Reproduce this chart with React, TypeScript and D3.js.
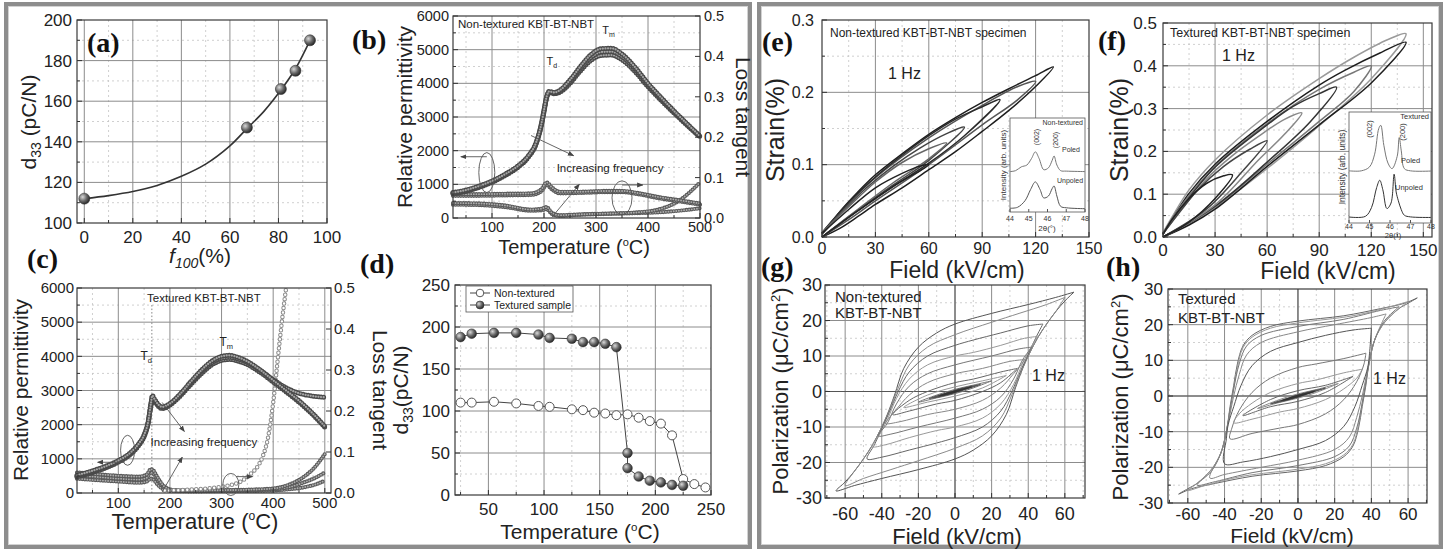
import React from 'react';
import * as d3 from 'd3';

type Pt = [number, number];
type Scale = d3.ScaleLinear<number, number>;

// ---------- (a) d33 vs f100 ----------
const aF100 = [0, 67, 81, 87, 93];
const aD33 = [112, 147, 166, 175, 190];
const aFitF = [0, 10, 20, 30, 40, 50, 60, 67, 74, 81, 87, 93];
const aFitD = [112, 113.5, 115.5, 118.5, 123, 129, 138, 146.5, 155, 165.5, 176, 190];

// ---------- (b) non-textured permittivity / loss ----------
const bT = [25, 50, 75, 100, 125, 150, 170, 185, 195, 200, 205, 210, 220, 230, 250, 270, 290, 310, 330, 350, 375, 400, 425, 450, 475, 500];
const bEps1 = [760, 830, 950, 1100, 1300, 1550, 1850, 2250, 2800, 3200, 3600, 3760, 3730, 3790, 4100, 4500, 4850, 5030, 5040, 4870, 4480, 4000, 3580, 3180, 2800, 2430];
const bEps2 = [740, 810, 930, 1080, 1280, 1530, 1830, 2230, 2780, 3180, 3580, 3740, 3710, 3760, 4050, 4430, 4760, 4930, 4940, 4790, 4420, 3950, 3540, 3150, 2780, 2420];
const bEps3 = [720, 790, 910, 1060, 1260, 1510, 1810, 2210, 2760, 3160, 3560, 3720, 3690, 3730, 4000, 4370, 4680, 4830, 4840, 4700, 4350, 3900, 3500, 3120, 2760, 2410];
const bLossT = [25, 75, 125, 175, 195, 205, 215, 230, 270, 320, 350, 380, 420, 460, 500];
const bLoss1 = [0.059, 0.059, 0.06, 0.061, 0.071, 0.088, 0.076, 0.065, 0.065, 0.067, 0.067, 0.062, 0.052, 0.044, 0.036];
const bLoss2 = [0.055, 0.055, 0.056, 0.057, 0.066, 0.082, 0.071, 0.061, 0.062, 0.064, 0.064, 0.059, 0.049, 0.041, 0.033];
const bLoss3 = [0.037, 0.036, 0.031, 0.021, 0.023, 0.027, 0.013, 0.007, 0.009, 0.011, 0.012, 0.014, 0.021, 0.043, 0.088];
const bLoss4 = [0.033, 0.032, 0.027, 0.018, 0.019, 0.022, 0.01, 0.005, 0.008, 0.01, 0.011, 0.012, 0.014, 0.018, 0.024];

// ---------- (c) textured permittivity / loss ----------
const cT = [20, 50, 75, 100, 125, 140, 150, 158, 163, 166, 170, 178, 185, 200, 220, 240, 260, 280, 300, 315, 330, 350, 375, 400, 425, 450, 475, 500];
const cEps1 = [520, 650, 780, 950, 1200, 1450, 1700, 2100, 2600, 2850, 2750, 2580, 2520, 2620, 2900, 3250, 3580, 3850, 4000, 4030, 3980, 3850, 3600, 3300, 3000, 2700, 2350, 1950];
const cEps2 = [500, 630, 760, 930, 1180, 1430, 1680, 2080, 2570, 2800, 2720, 2560, 2500, 2600, 2880, 3220, 3540, 3800, 3940, 3970, 3930, 3820, 3590, 3320, 3080, 2920, 2840, 2800];
const cEps3 = [470, 600, 730, 900, 1150, 1400, 1650, 2050, 2530, 2760, 2690, 2530, 2470, 2570, 2840, 3170, 3480, 3740, 3880, 3910, 3870, 3760, 3530, 3250, 2960, 2660, 2320, 1930];
const cLossT = [20, 50, 100, 140, 155, 163, 168, 175, 190, 210, 250, 300, 350, 400, 430, 460, 480, 500];
const cLoss1 = [0.05, 0.047, 0.042, 0.04, 0.045, 0.058, 0.055, 0.04, 0.015, 0.007, 0.006, 0.007, 0.008, 0.011, 0.02, 0.04, 0.062, 0.095];
const cLoss2 = [0.042, 0.04, 0.035, 0.033, 0.037, 0.05, 0.047, 0.033, 0.012, 0.006, 0.005, 0.006, 0.007, 0.009, 0.014, 0.026, 0.036, 0.05];
const cLoss3 = [0.035, 0.032, 0.028, 0.025, 0.028, 0.035, 0.033, 0.022, 0.008, 0.005, 0.004, 0.005, 0.005, 0.006, 0.009, 0.014, 0.02, 0.03];
const cSteepT = [190, 220, 250, 280, 300, 320, 340, 355, 370, 380, 390, 400, 410, 418, 425];
const cSteep = [0.006, 0.007, 0.009, 0.012, 0.015, 0.02, 0.03, 0.045, 0.065, 0.09, 0.135, 0.22, 0.34, 0.43, 0.5];

// ---------- (d) d33 vs temperature ----------
const dNonT = [25, 35, 55, 75, 95, 105, 125, 135, 145, 155, 165, 175, 185, 195, 205, 215, 225, 235, 245];
const dNon = [110, 110, 111, 109, 106, 105, 102, 101, 98, 97, 95, 96, 92, 88, 85, 71, 19, 13, 9];
const dTexT = [25, 35, 55, 75, 95, 105, 125, 135, 145, 155, 165, 175, 175, 185, 195, 205, 215, 225];
const dTex = [188, 192, 193, 193, 191, 187, 186, 182, 182, 180, 176, 50, 32, 22, 17, 15, 12, 11];

// ---------- (e) strain loops, non-textured (up branch then down branch) ----------
const eLoop130: Pt[] = [[0, 0], [10, 0.012], [20, 0.028], [30, 0.045], [45, 0.068], [60, 0.093], [75, 0.118], [90, 0.146], [105, 0.175], [120, 0.208], [130, 0.235], [120, 0.223], [105, 0.205], [90, 0.186], [75, 0.165], [60, 0.142], [45, 0.115], [30, 0.086], [20, 0.062], [10, 0.035], [3, 0.012], [0, 0.004]];
const eLoop120: Pt[] = [[0, 0], [15, 0.024], [30, 0.05], [60, 0.1], [90, 0.155], [110, 0.19], [120, 0.215], [110, 0.208], [90, 0.182], [60, 0.137], [30, 0.082], [15, 0.047], [5, 0.02], [0, 0.005]];
const eLoop100: Pt[] = [[0, 0], [20, 0.036], [40, 0.07], [60, 0.102], [80, 0.14], [100, 0.19], [90, 0.18], [75, 0.163], [60, 0.14], [45, 0.113], [30, 0.083], [15, 0.048], [0, 0.006]];
const eLoop80: Pt[] = [[0, 0], [20, 0.037], [40, 0.072], [60, 0.106], [80, 0.152], [70, 0.143], [55, 0.123], [40, 0.098], [25, 0.068], [10, 0.032], [0, 0.006]];
const eLoop70: Pt[] = [[0, 0], [20, 0.038], [40, 0.075], [60, 0.108], [70, 0.13], [60, 0.122], [45, 0.103], [30, 0.076], [15, 0.042], [0, 0.006]];
const eLoop60: Pt[] = [[0, 0], [20, 0.036], [40, 0.07], [60, 0.1], [55, 0.098], [45, 0.088], [30, 0.068], [15, 0.038], [0, 0.005]];

// ---------- (f) strain loops, textured ----------
const fLoop140g: Pt[] = [[0, 0], [15, 0.03], [30, 0.068], [60, 0.16], [90, 0.26], [120, 0.37], [140, 0.475], [130, 0.462], [110, 0.42], [90, 0.37], [60, 0.285], [30, 0.18], [15, 0.11], [5, 0.045], [0, 0.01]];
const fLoop140k: Pt[] = [[0, 0], [15, 0.028], [30, 0.065], [60, 0.165], [90, 0.262], [120, 0.36], [140, 0.455], [125, 0.43], [105, 0.39], [90, 0.355], [60, 0.27], [30, 0.17], [15, 0.102], [5, 0.04], [0, 0.006]];
const fLoop120: Pt[] = [[0, 0], [30, 0.07], [60, 0.17], [90, 0.27], [110, 0.34], [120, 0.4], [110, 0.385], [90, 0.345], [60, 0.265], [30, 0.165], [10, 0.07], [0, 0.008]];
const fLoop100: Pt[] = [[0, 0], [30, 0.072], [60, 0.175], [85, 0.27], [100, 0.35], [90, 0.335], [75, 0.305], [60, 0.262], [30, 0.163], [10, 0.065], [0, 0.008]];
const fLoop80: Pt[] = [[0, 0], [30, 0.075], [55, 0.18], [70, 0.24], [80, 0.29], [70, 0.275], [55, 0.235], [40, 0.19], [25, 0.135], [10, 0.06], [0, 0.008]];
const fLoop60: Pt[] = [[0, 0], [25, 0.065], [45, 0.15], [60, 0.225], [50, 0.205], [35, 0.165], [20, 0.11], [8, 0.05], [0, 0.007]];
const fLoop40: Pt[] = [[0, 0], [15, 0.035], [30, 0.09], [40, 0.145], [35, 0.143], [25, 0.125], [15, 0.09], [5, 0.04], [0, 0.006]];

// ---------- XRD insets (2theta, arb. intensity) ----------
const eXrdPoled: Pt[] = [[44, 43], [44.3, 44], [44.6, 48], [44.9, 50], [45.15, 57], [45.35, 64], [45.55, 57], [45.8, 45], [46.05, 47], [46.25, 55], [46.35, 59.6], [46.5, 50], [46.7, 44], [47, 43.5], [48, 43]];
const eXrdUnpoled: Pt[] = [[44, 4], [44.4, 5], [44.8, 12], [45.1, 24], [45.35, 32], [45.6, 24], [45.8, 15], [46.05, 17], [46.25, 25], [46.35, 27.7], [46.5, 17], [46.7, 6], [47, 4.5], [48, 3.5]];
const fXrdPoled: Pt[] = [[44, 47], [44.6, 47], [45, 50.5], [45.25, 62], [45.45, 85], [45.55, 88], [45.7, 70], [45.9, 54], [46.1, 49], [46.35, 60], [46.45, 77], [46.55, 65], [46.7, 49], [47, 47], [48, 46.8]];
const fXrdUnpoled: Pt[] = [[44, 5.4], [44.8, 6], [45.1, 14], [45.35, 32], [45.5, 38.5], [45.65, 30], [45.85, 13], [46.05, 18], [46.2, 44], [46.3, 28], [46.4, 20.5], [46.55, 12], [46.7, 7], [47, 5.5], [48, 5]];

// ---------- (g),(h) P-E loops: descending branch, ascending branch is its point mirror ----------
const gLoops: Pt[][] = [
  [[65, 28], [55, 26.5], [40, 24.5], [20, 22], [0, 19], [-10, 16.5], [-20, 12.5], [-28, 6.5], [-33, -1], [-37, -6.5], [-40, -10], [-45, -15], [-50, -19], [-55, -22.5], [-60, -25.5], [-65, -28]],
  [[60, 26.5], [50, 24.5], [35, 22], [20, 19.5], [0, 16], [-15, 12.5], [-25, 7.5], [-31, 1], [-36, -5.5], [-40, -10], [-45, -15], [-50, -19], [-55, -22.5], [-60, -26.5]],
  [[48, 19], [40, 18.5], [25, 16.5], [10, 14.5], [0, 13], [-15, 10], [-25, 5.5], [-31, 0], [-36, -6], [-40, -10.5], [-44, -15], [-48, -19]],
  [[45, 15.5], [38, 15], [25, 13], [10, 11], [0, 10], [-15, 7.5], [-25, 3.5], [-32, -2], [-37, -8], [-41, -12], [-45, -15.5]],
  [[42, 12.5], [35, 12], [20, 10], [0, 7.5], [-15, 5], [-25, 1.5], [-32, -3.5], [-37, -9], [-42, -12.5]],
  [[38, 9], [30, 8.5], [15, 6.5], [0, 5], [-15, 2.5], [-25, -1], [-32, -5], [-36, -7.5], [-38, -9]],
  [[34, 6.5], [25, 5.5], [10, 3.5], [0, 2.5], [-15, 0], [-25, -2.5], [-34, -6.5]],
  [[28, 4.5], [15, 3], [0, 1.3], [-15, -1], [-28, -4.5]],
  [[20, 3], [10, 1.8], [0, 0.6], [-10, -1], [-20, -3]],
  [[14, 2], [5, 1], [0, 0.3], [-5, -0.5], [-14, -2]],
  [[9, 1.3], [0, 0.15], [-9, -1.3]],
];
const hLoops: Pt[][] = [
  [[65, 27.5], [58, 26], [45, 24.5], [25, 22.5], [0, 21], [-15, 19.5], [-25, 17], [-30, 14], [-33, 9], [-35, 3], [-37, -3], [-39, -10], [-42, -16], [-47, -20.5], [-55, -24.5], [-60, -26], [-65, -27.5]],
  [[60, 26.5], [50, 25], [30, 22.5], [0, 20.5], [-15, 19], [-25, 16.5], [-30, 13.5], [-33, 8], [-35, 2], [-37, -4], [-39, -10], [-42, -16], [-47, -20.5], [-55, -24.5], [-60, -26.5]],
  [[55, 25], [45, 24], [25, 21.5], [0, 19.5], [-20, 17], [-28, 14], [-32, 9], [-35, 2], [-37, -4], [-39, -10], [-42, -16], [-47, -21], [-55, -25]],
  [[48, 23], [40, 22], [20, 20], [0, 18], [-20, 15], [-28, 11.5], [-32, 6], [-35, 0], [-37, -5], [-39, -10], [-42, -16], [-48, -23]],
  [[40, 19], [30, 18.5], [15, 17], [0, 15], [-15, 12.5], [-25, 8.5], [-31, 3], [-35, -3], [-38, -8], [-39, -12], [-40, -19]],
  [[37, 12], [25, 10.5], [10, 9], [0, 8], [-15, 5], [-25, 1], [-32, -4], [-36, -9], [-37, -12]],
  [[35, 7.5], [25, 6.5], [10, 4.5], [0, 3.5], [-15, 1], [-25, -2], [-32, -5], [-35, -7.5]],
  [[30, 5.5], [15, 3], [0, 1.5], [-15, -1], [-30, -5.5]],
  [[22, 3.5], [10, 1.8], [0, 0.6], [-10, -1], [-22, -3.5]],
  [[15, 2.2], [5, 1], [0, 0.3], [-5, -0.6], [-15, -2.2]],
  [[9, 1.3], [0, 0.15], [-9, -1.3]],
];

// ---------- tick values ----------
const aXT = [0, 20, 40, 60, 80, 100];
const aYT = [100, 120, 140, 160, 180, 200];
const tempXT = [100, 200, 300, 400, 500];
const epsYT = [0, 1000, 2000, 3000, 4000, 5000, 6000];
const lossYT = [0, 0.1, 0.2, 0.3, 0.4, 0.5];
const dXT = [50, 100, 150, 200, 250];
const dYT = [0, 50, 100, 150, 200, 250];
const strainXT = [0, 30, 60, 90, 120, 150];
const eYT = [0, 0.1, 0.2, 0.3];
const fYT = [0, 0.1, 0.2, 0.3, 0.4, 0.5];
const peXT = [-60, -40, -20, 0, 20, 40, 60];
const peYT = [-30, -20, -10, 0, 10, 20, 30];
const xrdXT = [44, 45, 46, 47, 48];

const SANS = "'Liberation Sans', Arial, sans-serif";
const SERIF = "'Liberation Serif', 'Times New Roman', serif";

const zip = (a: number[], b: number[]): Pt[] => a.map((v, i) => [v, b[i]]);
const mids = (t: number[]) => t.slice(1).map((v, i) => (v + t[i]) / 2);
const withEdges = (t: number[], lo: number, hi: number) => {
  const m = mids(t);
  const step = t[1] - t[0];
  if (t[0] - step / 2 > lo) m.unshift(t[0] - step / 2);
  if (t[t.length - 1] + step / 2 < hi) m.push(t[t.length - 1] + step / 2);
  return m;
};
const mkLine = (x: Scale, y: Scale, curve: d3.CurveFactory = d3.curveMonotoneX) =>
  d3.line<Pt>().x(d => x(d[0])).y(d => y(d[1])).curve(curve);

interface AxProps {
  x: Scale; y: Scale; xt: number[]; yt: number[];
  fs: number; xdy: number; ydx: number;
  xf?: (v: number) => string; yf?: (v: number) => string;
  y2?: Scale; y2t?: number[]; y2f?: (v: number) => string; y2dx?: number;
}

function Grid({ x, y, xt, yt }: AxProps) {
  const [l, r] = x.range(); const [b, t] = y.range();
  const [x0, x1] = x.domain(); const [y0, y1] = y.domain();
  const xm = withEdges(xt, x0, x1); const ym = withEdges(yt, y0, y1);
  return (
    <g>
      <rect x={l} y={t} width={r - l} height={b - t} fill="#fff" />
      {xm.map(v => <line key={'xm' + v} x1={x(v)} x2={x(v)} y1={t} y2={b} stroke="#c4c4c4" strokeWidth={0.8} strokeDasharray="2 3" />)}
      {ym.map(v => <line key={'ym' + v} y1={y(v)} y2={y(v)} x1={l} x2={r} stroke="#c4c4c4" strokeWidth={0.8} strokeDasharray="2 3" />)}
      {xt.filter(v => x(v) > l + 2 && x(v) < r - 2).map(v => <line key={'xt' + v} x1={x(v)} x2={x(v)} y1={t} y2={b} stroke="#8c8c8c" strokeWidth={1} />)}
      {yt.filter(v => y(v) < b - 2 && y(v) > t + 2).map(v => <line key={'yt' + v} y1={y(v)} y2={y(v)} x1={l} x2={r} stroke="#8c8c8c" strokeWidth={1} />)}
    </g>
  );
}

function Frame(p: AxProps) {
  const { x, y, xt, yt, fs, xdy, ydx } = p;
  const [l, r] = x.range(); const [b, t] = y.range();
  const [x0, x1] = x.domain(); const [y0, y1] = y.domain();
  const xm = withEdges(xt, x0, x1); const ym = withEdges(yt, y0, y1);
  const xf = p.xf || ((v: number) => String(v));
  const yf = p.yf || ((v: number) => String(v));
  return (
    <g fontFamily={SANS} fill="#222">
      <rect x={l} y={t} width={r - l} height={b - t} fill="none" stroke="#3a3a3a" strokeWidth={1.2} />
      {xm.map(v => <line key={'bm' + v} x1={x(v)} x2={x(v)} y1={b} y2={b - 3} stroke="#333" />)}
      {xt.map(v => <line key={'bt' + v} x1={x(v)} x2={x(v)} y1={b} y2={b - 5} stroke="#333" />)}
      {ym.map(v => <line key={'lm' + v} x1={l} x2={l + 3} y1={y(v)} y2={y(v)} stroke="#333" />)}
      {yt.map(v => <line key={'lt' + v} x1={l} x2={l + 5} y1={y(v)} y2={y(v)} stroke="#333" />)}
      {xt.map(v => <text key={'xl' + v} x={x(v)} y={b + xdy} fontSize={fs} textAnchor="middle">{xf(v)}</text>)}
      {yt.map(v => <text key={'yl' + v} x={l - ydx} y={y(v)} dy="0.35em" fontSize={fs} textAnchor="end">{yf(v)}</text>)}
      {p.y2 && p.y2t && p.y2t.map(v => (
        <g key={'r' + v}>
          <line x1={r} x2={r - 5} y1={p.y2!(v)} y2={p.y2!(v)} stroke="#333" />
          <text x={r + (p.y2dx ?? 4)} y={p.y2!(v)} dy="0.35em" fontSize={fs}>{p.y2f ? p.y2f(v) : String(v)}</text>
        </g>
      ))}
    </g>
  );
}

// chain of small open markers along a curve
function Beads({ d, color = '#4a4a4a', w = 5, gap = 2.6, hole = 0.45, holeOp = 0.5 }: { d: string; color?: string; w?: number; gap?: number; hole?: number; holeOp?: number }) {
  return (
    <g fill="none" strokeLinecap="round">
      <path d={d} stroke={color} strokeWidth={w} strokeDasharray={`0 ${gap}`} />
      <path d={d} stroke="#fff" strokeOpacity={holeOp} strokeWidth={w * hole} strokeDasharray={`0 ${gap}`} />
    </g>
  );
}

function PanelTag({ x, y, t }: { x: number; y: number; t: string }) {
  return <text x={x} y={y} fontFamily={SERIF} fontWeight="bold" fontSize={28} fill="#111">{t}</text>;
}

function TempLabel({ x, y, fs }: { x: number; y: number; fs: number }) {
  return (
    <text x={x} y={y} fontFamily={SANS} fontSize={fs} textAnchor="middle" fill="#222">
      Temperature (<tspan dy={-fs * 0.4} fontSize={fs * 0.55}>o</tspan><tspan dy={fs * 0.4}>C)</tspan>
    </text>
  );
}

function VLabel({ x, y, fs, rot = -90, children }: { x: number; y: number; fs: number; rot?: number; children: React.ReactNode }) {
  return (
    <text transform={`translate(${x},${y}) rotate(${rot})`} fontFamily={SANS} fontSize={fs} textAnchor="middle" fill="#222">
      {children}
    </text>
  );
}

const Arrow = ({ x1, y1, x2, y2 }: { x1: number; y1: number; x2: number; y2: number }) => (
  <line x1={x1} y1={y1} x2={x2} y2={y2} stroke="#555" strokeWidth={0.9} markerEnd="url(#arrowHead)" />
);

const peLoop = (desc: Pt[]): Pt[] => desc.concat(desc.map(([e, p]) => [-e, -p] as Pt).slice(1));

export default function App() {
  // scales
  const ax = d3.scaleLinear().domain([-3, 100]).range([77, 327]);
  const ay = d3.scaleLinear().domain([100, 200]).range([223, 20]);
  const bx = d3.scaleLinear().domain([25, 500]).range([453, 700]);
  const by = d3.scaleLinear().domain([0, 6000]).range([218, 16]);
  const by2 = d3.scaleLinear().domain([0, 0.5]).range([218, 16]);
  const cx = d3.scaleLinear().domain([20, 512]).range([77, 331]);
  const cy = d3.scaleLinear().domain([0, 6000]).range([493, 288]);
  const cy2 = d3.scaleLinear().domain([0, 0.5]).range([493, 288]);
  const dx = d3.scaleLinear().domain([20, 250]).range([455, 711]);
  const dy = d3.scaleLinear().domain([0, 250]).range([495, 285]);
  const ex = d3.scaleLinear().domain([0, 150]).range([822, 1089]);
  const ey = d3.scaleLinear().domain([0, 0.3]).range([237, 20]);
  const fx = d3.scaleLinear().domain([0, 155]).range([1163, 1432]);
  const fy = d3.scaleLinear().domain([0, 0.5]).range([237, 23]);
  const gx = d3.scaleLinear().domain([-71, 71]).range([825, 1085]);
  const gy = d3.scaleLinear().domain([-30, 30]).range([498, 285]);
  const hx = d3.scaleLinear().domain([-70.8, 70.3]).range([1168, 1427]);
  const hy = d3.scaleLinear().domain([-30, 30]).range([503, 289]);
  const iex = d3.scaleLinear().domain([44, 48]).range([1010, 1085]);
  const iey = d3.scaleLinear().domain([0, 100]).range([212, 118]);
  const ifx = d3.scaleLinear().domain([44, 48]).range([1349, 1431]);
  const ify = d3.scaleLinear().domain([0, 100]).range([223, 112]);

  const f1 = (v: number) => v.toFixed(1);
  const aAx: AxProps = { x: ax, y: ay, xt: aXT, yt: aYT, fs: 17, xdy: 20, ydx: 5 };
  const bAx: AxProps = { x: bx, y: by, xt: tempXT, yt: epsYT, fs: 14.5, xdy: 14, ydx: 4, y2: by2, y2t: lossYT, y2f: f1, y2dx: 4 };
  const cAx: AxProps = { x: cx, y: cy, xt: tempXT, yt: epsYT, fs: 15, xdy: 15, ydx: 3, y2: cy2, y2t: lossYT, y2f: f1, y2dx: 3 };
  const dAx: AxProps = { x: dx, y: dy, xt: dXT, yt: dYT, fs: 17, xdy: 20, ydx: 5 };
  const eAx: AxProps = { x: ex, y: ey, xt: strainXT, yt: eYT, fs: 16, xdy: 17, ydx: 8, yf: f1 };
  const fAx: AxProps = { x: fx, y: fy, xt: strainXT, yt: fYT, fs: 17, xdy: 19, ydx: 6, yf: f1 };
  const gAx: AxProps = { x: gx, y: gy, xt: peXT, yt: peYT, fs: 18, xdy: 22, ydx: 3 };
  const hAx: AxProps = { x: hx, y: hy, xt: peXT, yt: peYT, fs: 17, xdy: 17, ydx: 5 };

  const aLine = mkLine(ax, ay, d3.curveCatmullRom);
  const bL = mkLine(bx, by); const bL2 = mkLine(bx, by2);
  const cL = mkLine(cx, cy); const cL2 = mkLine(cx, cy2);
  const dL = mkLine(dx, dy, d3.curveLinear);
  const eL = mkLine(ex, ey, d3.curveCatmullRom);
  const fL = mkLine(fx, fy, d3.curveCatmullRom);
  const gL = mkLine(gx, gy, d3.curveCatmullRom);
  const hL = mkLine(hx, hy, d3.curveCatmullRom);
  const ieL = mkLine(iex, iey, d3.curveCatmullRom);
  const ifL = mkLine(ifx, ify, d3.curveCatmullRom);

  const eLoops = [eLoop130, eLoop120, eLoop100, eLoop80, eLoop70, eLoop60];
  const eCols = ['#1e1e1e', '#555', '#2a2a2a', '#444', '#666', '#222'];
  const fLoops = [fLoop140g, fLoop140k, fLoop120, fLoop100, fLoop80, fLoop60, fLoop40];
  const fCols = ['#9a9a9a', '#1e1e1e', '#777', '#333', '#888', '#444', '#222'];
  const gCols = ['#555', '#8a8a8a', '#666', '#999', '#777', '#888', '#666', '#999', '#777', '#555', '#333'];
  const hCols = ['#666', '#999', '#777', '#888', '#555', '#777', '#999', '#666', '#888', '#555', '#333'];

  return (
    <svg width={1446} height={551} style={{ position: 'absolute', left: 0, top: 0, background: '#fff' }}>
      <defs>
        <radialGradient id="ball" cx="35%" cy="35%" r="70%">
          <stop offset="0%" stopColor="#d8d8d8" />
          <stop offset="55%" stopColor="#666" />
          <stop offset="100%" stopColor="#222" />
        </radialGradient>
        <marker id="arrowHead" viewBox="0 0 10 10" refX="9" refY="5" markerWidth="7" markerHeight="7" orient="auto-start-reverse">
          <path d="M0,1 L10,5 L0,9 z" fill="#444" />
        </marker>
      </defs>
      <rect width={1446} height={551} fill="#fff" />

      {/* outer frames */}
      <rect x={6} y={4} width={744} height={543} fill="none" stroke="#8d8d8d" strokeWidth={4} />
      <rect x={8.5} y={6.5} width={739} height={538} fill="none" stroke="#d2d2d2" strokeWidth={1} />
      <rect x={759} y={4} width={682} height={543} fill="none" stroke="#8d8d8d" strokeWidth={4} />
      <rect x={761.5} y={6.5} width={677} height={538} fill="none" stroke="#d2d2d2" strokeWidth={1} />

      {/* (a) */}
      <Grid {...aAx} />
      <path d={aLine(zip(aFitF, aFitD)) || ''} fill="none" stroke="#333" strokeWidth={1.6} />
      {aF100.map((f, i) => <circle key={'a' + i} cx={ax(f)} cy={ay(aD33[i])} r={5.5} fill="url(#ball)" stroke="#333" strokeWidth={0.6} />)}
      <Frame {...aAx} />
      <PanelTag x={87} y={52} t="(a)" />
      <VLabel x={36} y={122} fs={21}>d<tspan dy={5} fontSize={14}>33</tspan><tspan dy={-5}> (pC/N)</tspan></VLabel>
      <text x={200} y={263} fontFamily={SANS} fontSize={21} textAnchor="middle" fill="#222">
        <tspan fontStyle="italic">f</tspan><tspan fontStyle="italic" fontSize={14} dy={5}>100</tspan><tspan dy={-5}>(%)</tspan>
      </text>

      {/* (b) */}
      <Grid {...bAx} />
      {[bLoss4, bLoss3].map((s, i) => <Beads key={'bl' + i} d={bL2(zip(bLossT, s)) || ''} color="#5a5a5a" w={4.2} />)}
      {[bLoss2, bLoss1].map((s, i) => <Beads key={'bu' + i} d={bL2(zip(bLossT, s)) || ''} color="#5a5a5a" w={4.2} />)}
      {[bEps3, bEps2, bEps1].map((s, i) => <Beads key={'be' + i} d={bL(zip(bT, s)) || ''} />)}
      <Frame {...bAx} />
      <PanelTag x={352} y={49} t="(b)" />
      <text x={458} y={28} fontFamily={SANS} fontSize={11.5} fill="#222">Non-textured KBT-BT-NBT</text>
      <text x={bx(205)} y={65} fontFamily={SANS} fontSize={11} fill="#222">T<tspan dy={3} fontSize={7}>d</tspan></text>
      <text x={bx(312)} y={34} fontFamily={SANS} fontSize={11} fill="#222">T<tspan dy={3} fontSize={7}>m</tspan></text>
      <ellipse cx={bx(90)} cy={by(1350)} rx={8} ry={20} fill="none" stroke="#555" strokeWidth={0.9} />
      <Arrow x1={bx(90)} y1={by(1820)} x2={bx(40)} y2={by(1820)} />
      <ellipse cx={bx(350)} cy={by(600)} rx={10} ry={17} fill="none" stroke="#555" strokeWidth={0.9} />
      <Arrow x1={bx(350)} y1={by(980)} x2={bx(390)} y2={by(980)} />
      <text x={bx(327)} y={by(1366)} fontFamily={SANS} fontSize={11.5} textAnchor="middle" fill="#222">Increasing frequency</text>
      <Arrow x1={bx(175)} y1={by(2450)} x2={bx(257)} y2={by(1850)} />
      <Arrow x1={bx(215)} y1={by(20)} x2={bx(268)} y2={by(1000)} />
      <VLabel x={412} y={117} fs={21}>Relative permittivity</VLabel>
      <VLabel x={736} y={117} fs={21} rot={90}>Loss tangent</VLabel>
      <TempLabel x={574} y={254} fs={20} />

      {/* (c) */}
      <Grid {...cAx} />
      {[cLoss3, cLoss2, cLoss1].map((s, i) => <Beads key={'cl' + i} d={cL2(zip(cLossT, s)) || ''} color="#5a5a5a" w={4.2} />)}
      <Beads d={cL2(zip(cSteepT, cSteep)) || ''} color="#8a8a8a" w={4.5} gap={4.5} hole={0.55} holeOp={1} />
      {[cEps3, cEps2, cEps1].map((s, i) => <Beads key={'ce' + i} d={cL(zip(cT, s)) || ''} />)}
      <line x1={cx(165)} x2={cx(165)} y1={cy(5500)} y2={cy(2900)} stroke="#666" strokeWidth={0.8} strokeDasharray="1.5 2" />
      <line x1={cx(165)} x2={cx(165)} y1={cy(2500)} y2={cy(0)} stroke="#666" strokeWidth={0.8} strokeDasharray="1.5 2" />
      <Frame {...cAx} />
      <PanelTag x={27} y={268} t="(c)" />
      <text x={147} y={302} fontFamily={SANS} fontSize={11.5} fill="#222">Textured KBT-BT-NBT</text>
      <text x={cx(143)} y={cy(3900)} fontFamily={SANS} fontSize={12} fill="#222">T<tspan dy={3} fontSize={7.5}>d</tspan></text>
      <text x={cx(296)} y={cy(4300)} fontFamily={SANS} fontSize={12} fill="#222">T<tspan dy={3} fontSize={7.5}>m</tspan></text>
      <ellipse cx={cx(118)} cy={cy(1250)} rx={7} ry={15} fill="none" stroke="#555" strokeWidth={0.9} />
      <Arrow x1={cx(112)} y1={cy(900)} x2={cx(60)} y2={cy(900)} />
      <ellipse cx={cx(318)} cy={cy(250)} rx={8} ry={11} fill="none" stroke="#555" strokeWidth={0.9} />
      <Arrow x1={cx(328)} y1={cy(480)} x2={cx(360)} y2={cy(480)} />
      <text x={cx(266)} y={cy(1375)} fontFamily={SANS} fontSize={11.5} textAnchor="middle" fill="#222">Increasing frequency</text>
      <Arrow x1={cx(185)} y1={cy(2650)} x2={cx(228)} y2={cy(1800)} />
      <Arrow x1={cx(185)} y1={cy(30)} x2={cx(224)} y2={cy(1050)} />
      <VLabel x={28} y={390} fs={21}>Relative permittivity</VLabel>
      <VLabel x={373} y={390} fs={21} rot={90}>Loss tangent</VLabel>
      <TempLabel x={195} y={529} fs={22} />

      {/* (d) */}
      <Grid {...dAx} />
      <path d={dL(zip(dNonT, dNon)) || ''} fill="none" stroke="#444" strokeWidth={1} />
      <path d={dL(zip(dTexT, dTex)) || ''} fill="none" stroke="#444" strokeWidth={1} />
      {dNonT.map((t, i) => <circle key={'dn' + i} cx={dx(t)} cy={dy(dNon[i])} r={4.5} fill="#fff" stroke="#555" strokeWidth={1} />)}
      {dTexT.map((t, i) => <circle key={'dt' + i} cx={dx(t)} cy={dy(dTex[i])} r={4.8} fill="url(#ball)" stroke="#333" strokeWidth={0.6} />)}
      <Frame {...dAx} />
      <g fontFamily={SANS} fontSize={10.5} fill="#222">
        <rect x={466} y={286} width={107} height={26} fill="#fff" stroke="#555" strokeWidth={0.8} />
        <line x1={470} x2={490} y1={293} y2={293} stroke="#444" />
        <circle cx={480} cy={293} r={3.8} fill="#fff" stroke="#555" />
        <text x={494} y={296.5}>Non-textured</text>
        <line x1={470} x2={490} y1={305} y2={305} stroke="#444" />
        <circle cx={480} cy={305} r={4} fill="url(#ball)" stroke="#333" strokeWidth={0.6} />
        <text x={494} y={308.5}>Textured sample</text>
      </g>
      <PanelTag x={360} y={273} t="(d)" />
      <VLabel x={408} y={390} fs={21}>d<tspan dy={5} fontSize={14}>33</tspan><tspan dy={-5}>(pC/N)</tspan></VLabel>
      <TempLabel x={580} y={539} fs={21} />

      {/* (e) */}
      <Grid {...eAx} />
      {eLoops.map((lp, i) => <path key={'e' + i} d={eL(lp) || ''} fill="none" stroke={eCols[i]} strokeWidth={1.5} />)}
      <rect x={1010} y={118} width={75} height={94} fill="#fff" stroke="#555" strokeWidth={0.8} />
      <path d={ieL(eXrdPoled) || ''} fill="none" stroke="#777" strokeWidth={1} />
      <path d={ieL(eXrdUnpoled) || ''} fill="none" stroke="#555" strokeWidth={1} />
      <g fontFamily={SANS} fontSize={7} fill="#333">
        {xrdXT.map(v => <text key={'iex' + v} x={iex(v)} y={221} textAnchor="middle">{v}</text>)}
        {xrdXT.map(v => <line key={'iet' + v} x1={iex(v)} x2={iex(v)} y1={212} y2={209} stroke="#555" />)}
        <text x={1083} y={125} textAnchor="end">Non-textured</text>
        <text x={1062} y={152}>Poled</text>
        <text x={1057} y={183}>Unpoled</text>
        <text transform="translate(1039,137) rotate(-90)" textAnchor="middle">(002)</text>
        <text transform="translate(1058,140) rotate(-90)" textAnchor="middle">(200)</text>
        <text transform="translate(1006,165) rotate(-90)" textAnchor="middle" fontSize={8}>Intensity (arb. units)</text>
        <text x={1047} y={231} textAnchor="middle" fontSize={8}>2θ(°)</text>
      </g>
      <Frame {...eAx} />
      <PanelTag x={762} y={51} t="(e)" />
      <text x={830} y={37} fontFamily={SANS} fontSize={12} fill="#222">Non-textured KBT-BT-NBT specimen</text>
      <text x={888} y={79} fontFamily={SANS} fontSize={16} fill="#222">1 Hz</text>
      <VLabel x={784} y={130} fs={25}>Strain(%)</VLabel>
      <text x={957} y={278} fontFamily={SANS} fontSize={23} textAnchor="middle" fill="#222">Field (kV/cm)</text>

      {/* (f) */}
      <Grid {...fAx} />
      {fLoops.map((lp, i) => <path key={'f' + i} d={fL(lp) || ''} fill="none" stroke={fCols[i]} strokeWidth={1.5} />)}
      <rect x={1349} y={112} width={82} height={111} fill="#fff" stroke="#555" strokeWidth={0.8} />
      <path d={ifL(fXrdPoled) || ''} fill="none" stroke="#777" strokeWidth={1} />
      <path d={ifL(fXrdUnpoled) || ''} fill="none" stroke="#333" strokeWidth={1} />
      <g fontFamily={SANS} fontSize={7} fill="#333">
        {xrdXT.map(v => <text key={'ifx' + v} x={ifx(v)} y={228.5} textAnchor="middle">{v}</text>)}
        {xrdXT.map(v => <line key={'ift' + v} x1={ifx(v)} x2={ifx(v)} y1={223} y2={220} stroke="#555" />)}
        <text x={1429} y={119} textAnchor="end" fontSize={7.5}>Textured</text>
        <text x={1401} y={163} fontSize={7.5}>Poled</text>
        <text x={1395} y={190} fontSize={7.5}>Unpoled</text>
        <text transform="translate(1372,129) rotate(-90)" textAnchor="middle" fontSize={7.5}>(002)</text>
        <text transform="translate(1405,132) rotate(-90)" textAnchor="middle" fontSize={7.5}>(200)</text>
        <text transform="translate(1345,167) rotate(-90)" textAnchor="middle" fontSize={8.5}>Intensity (arb. units)</text>
        <text x={1393} y={237.5} textAnchor="middle" fontSize={7.5}>2θ(°)</text>
      </g>
      <Frame {...fAx} />
      <PanelTag x={1098} y={50} t="(f)" />
      <text x={1170} y={37} fontFamily={SANS} fontSize={12.5} fill="#222">Textured KBT-BT-NBT specimen</text>
      <text x={1222} y={61} fontFamily={SANS} fontSize={16} fill="#222">1 Hz</text>
      <VLabel x={1128} y={130} fs={25}>Strain(%)</VLabel>
      <text x={1328} y={279} fontFamily={SANS} fontSize={23} textAnchor="middle" fill="#222">Field (kV/cm)</text>

      {/* (g) */}
      <Grid {...gAx} />
      <line x1={gx(0)} x2={gx(0)} y1={285} y2={498} stroke="#555" />
      <line x1={825} x2={1085} y1={gy(0)} y2={gy(0)} stroke="#555" />
      {gLoops.map((lp, i) => <path key={'g' + i} d={gL(peLoop(lp)) || ''} fill="none" stroke={gCols[i]} strokeWidth={i > 8 ? 1.3 : 1} />)}
      <Frame {...gAx} />
      <PanelTag x={761} y={276} t="(g)" />
      <text fontFamily={SANS} fontSize={15} fill="#222">
        <tspan x={835} y={302}>Non-textured</tspan>
        <tspan x={835} y={318}>KBT-BT-NBT</tspan>
      </text>
      <text x={1032} y={381} fontFamily={SANS} fontSize={16} fill="#222">1 Hz</text>
      <VLabel x={788} y={391} fs={22}>Polarization (μC/cm<tspan dy={-8} fontSize={13}>2</tspan><tspan dy={8}>)</tspan></VLabel>
      <text x={957} y={544} fontFamily={SANS} fontSize={22} textAnchor="middle" fill="#222">Field (kV/cm)</text>

      {/* (h) */}
      <Grid {...hAx} />
      <line x1={hx(0)} x2={hx(0)} y1={289} y2={503} stroke="#555" />
      <line x1={1168} x2={1427} y1={hy(0)} y2={hy(0)} stroke="#555" />
      {hLoops.map((lp, i) => <path key={'h' + i} d={hL(peLoop(lp)) || ''} fill="none" stroke={hCols[i]} strokeWidth={i > 8 ? 1.3 : 1} />)}
      <Frame {...hAx} />
      <PanelTag x={1106} y={276} t="(h)" />
      <text fontFamily={SANS} fontSize={15} fill="#222">
        <tspan x={1178} y={304}>Textured</tspan>
        <tspan x={1178} y={323}>KBT-BT-NBT</tspan>
      </text>
      <text x={1373} y={384} fontFamily={SANS} fontSize={16} fill="#222">1 Hz</text>
      <VLabel x={1128} y={397} fs={22}>Polarization (μC/cm<tspan dy={-8} fontSize={13}>2</tspan><tspan dy={8}>)</tspan></VLabel>
      <text x={1292} y={543} fontFamily={SANS} fontSize={21} textAnchor="middle" fill="#222">Field (kV/cm)</text>
    </svg>
  );
}
